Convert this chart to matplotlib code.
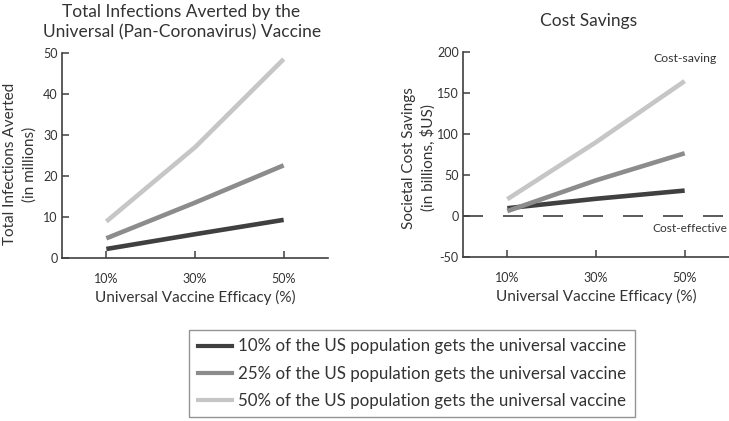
import matplotlib
matplotlib.use("Agg")
import matplotlib.pyplot as plt
from matplotlib.lines import Line2D

plt.rcParams['font.family'] = ['Lato', 'DejaVu Sans']
plt.rcParams['lines.scale_dashes'] = False
plt.rcParams['axes.unicode_minus'] = False

efficacy = [10, 30, 50]
efficacy_labels = ['10%', '30%', '50%']
series_labels = [
    '10% of the US population gets the universal vaccine',
    '25% of the US population gets the universal vaccine',
    '50% of the US population gets the universal vaccine',
]
infections_10 = [2.2, 5.8, 9.3]
infections_25 = [4.8, 13.5, 22.6]
infections_50 = [8.9, 27.0, 48.5]
savings_10 = [9.5, 21.0, 31.0]
savings_25 = [6.0, 43.5, 76.5]
savings_50 = [20.5, 90.0, 164.5]

colors = ['#404040', '#8c8c8c', '#c6c6c6']
txt = '#333333'
spine_c = '#404040'
W, H = 729, 421

fig = plt.figure(figsize=(W / 100, H / 100), dpi=100)

def px(x0, y0, x1, y1):
    return [x0 / W, 1 - y1 / H, (x1 - x0) / W, (y1 - y0) / H]

ax1 = fig.add_axes(px(62, 53, 328, 258))
ax2 = fig.add_axes(px(463, 52, 729, 257))

for ax in (ax1, ax2):
    ax.spines['top'].set_visible(False)
    ax.spines['right'].set_visible(False)
    for s in ('left', 'bottom'):
        ax.spines[s].set_color(spine_c)
        ax.spines[s].set_linewidth(1.2)
    ax.set_xlim(0, 60)
    ax.set_xticks(efficacy)
    ax.set_xticklabels(efficacy_labels)
    ax.tick_params(axis='both', direction='in', length=5, width=1.1,
                   color=spine_c, labelsize=9, labelcolor=txt)
    ax.tick_params(axis='x', pad=11)
    ax.tick_params(axis='y', pad=3)
    ax.patch.set_alpha(0)

for vals, c in zip([infections_10, infections_25, infections_50], colors):
    ax1.plot(efficacy, vals, color=c, lw=3.3, solid_capstyle='butt')
ax1.set_ylim(0, 50)
ax1.set_yticks([0, 10, 20, 30, 40, 50])

ax2.axhline(0, color=spine_c, lw=1.2, dashes=(14.4, 14.4))
for vals, c in zip([savings_10, savings_25, savings_50], colors):
    ax2.plot(efficacy, vals, color=c, lw=3.3, solid_capstyle='butt')
ax2.set_ylim(-50, 200)
ax2.set_yticks([-50, 0, 50, 100, 150, 200])

fs_title = 12.5
fig.text(181 / W, 1 - 12 / H, 'Total Infections Averted by the', ha='center', va='center',
         fontsize=fs_title, color=txt)
fig.text(182 / W, 1 - 32 / H, 'Universal (Pan-Coronavirus) Vaccine', ha='center', va='center',
         fontsize=fs_title, color=txt)
fig.text(589 / W, 1 - 21 / H, 'Cost Savings', ha='center', va='center',
         fontsize=fs_title, color=txt)

fs_lab = 11
fig.text(195 / W, 1 - 297 / H, 'Universal Vaccine Efficacy (%)', ha='center', va='center',
         fontsize=fs_lab, color=txt)
fig.text(596 / W, 1 - 296 / H, 'Universal Vaccine Efficacy (%)', ha='center', va='center',
         fontsize=fs_lab, color=txt)
fig.text(10 / W, 1 - 164 / H, 'Total Infections Averted', rotation=90, ha='center', va='center',
         fontsize=fs_lab, color=txt)
fig.text(30 / W, 1 - 164 / H, '(in millions)', rotation=90, ha='center', va='center',
         fontsize=fs_lab, color=txt)
fig.text(409 / W, 1 - 158 / H, 'Societal Cost Savings', rotation=90, ha='center', va='center',
         fontsize=fs_lab, color=txt)
fig.text(428 / W, 1 - 158 / H, '(in billions, $US)', rotation=90, ha='center', va='center',
         fontsize=fs_lab, color=txt)

fig.text(653 / W, 1 - 58 / H, 'Cost-saving', ha='left', va='center', fontsize=8.8, color=txt)
fig.text(727 / W, 1 - 228 / H, 'Cost-effective', ha='right', va='center', fontsize=8.6, color=txt)

handles = [Line2D([], [], color=c, lw=3) for c in colors]
leg = fig.legend(handles, series_labels, loc='center', bbox_to_anchor=(412 / W, 1 - 373.5 / H),
                 fontsize=12.2, frameon=True, fancybox=False, handlelength=2.0,
                 handletextpad=0.38, labelspacing=0.65, borderpad=0.5, borderaxespad=0)
leg.get_frame().set_edgecolor('#7a7a7a')
leg.get_frame().set_linewidth(1.0)
for t in leg.get_texts():
    t.set_color(txt)

fig.savefig('out.png', dpi=100)
